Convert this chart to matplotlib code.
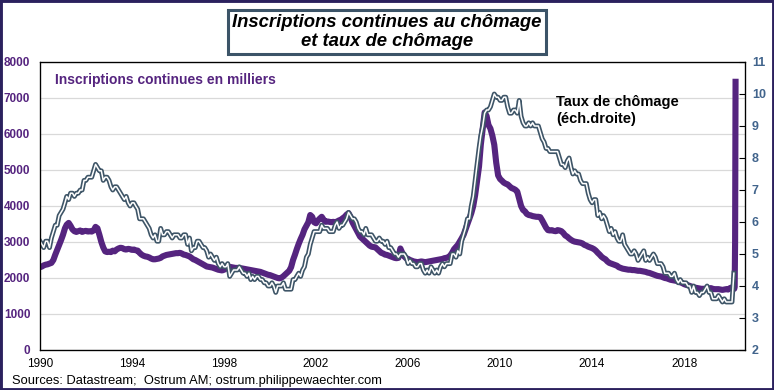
import matplotlib
matplotlib.use('Agg')
from matplotlib import pyplot as plt
from matplotlib.patches import Rectangle
import matplotlib.dates as mdates
import numpy as np
import pandas as pd

plt.rcParams['font.family'] = ['Liberation Sans', 'DejaVu Sans']

# continuing claims, monthly, thousands (Jan 1990 - Feb 2020)
claims_monthly = np.array([
    2300, 2320, 2350, 2370, 2380, 2400, 2420, 2500, 2650, 2780, 2920, 3050,  # 1990
    3200, 3380, 3480, 3530, 3450, 3350, 3300, 3280, 3300, 3320, 3280, 3300,  # 1991
    3310, 3290, 3300, 3290, 3320, 3420, 3380, 3200, 3000, 2850, 2740, 2720,  # 1992
    2730, 2720, 2760, 2740, 2790, 2820, 2840, 2830, 2800, 2790, 2810, 2800,  # 1993
    2780, 2790, 2770, 2760, 2700, 2650, 2620, 2600, 2590, 2570, 2540, 2520,  # 1994
    2520, 2530, 2540, 2560, 2600, 2620, 2640, 2650, 2660, 2670, 2680, 2690,  # 1995
    2690, 2700, 2680, 2650, 2640, 2620, 2600, 2560, 2520, 2500, 2470, 2440,  # 1996
    2410, 2380, 2350, 2320, 2310, 2300, 2290, 2270, 2250, 2230, 2220, 2210,  # 1997
    2230, 2260, 2300, 2310, 2300, 2290, 2280, 2280, 2270, 2270, 2260, 2250,  # 1998
    2240, 2230, 2220, 2210, 2200, 2190, 2180, 2170, 2150, 2130, 2110, 2090,  # 1999
    2080, 2060, 2040, 2020, 2000, 1990, 2010, 2050, 2100, 2150, 2200, 2300,  # 2000
    2500, 2650, 2800, 2950, 3080, 3200, 3350, 3450, 3550, 3750, 3700, 3550,  # 2001
    3520, 3600, 3650, 3700, 3620, 3560, 3570, 3560, 3550, 3560, 3550, 3570,  # 2002
    3600, 3620, 3660, 3700, 3760, 3800, 3700, 3550, 3450, 3350, 3250, 3150,  # 2003
    3100, 3050, 3000, 2950, 2900, 2870, 2860, 2850, 2800, 2750, 2700, 2680,  # 2004
    2650, 2640, 2620, 2600, 2580, 2560, 2550, 2560, 2820, 2700, 2600, 2550,  # 2005
    2530, 2500, 2480, 2460, 2450, 2440, 2450, 2460, 2450, 2440, 2450, 2460,  # 2006
    2470, 2480, 2490, 2500, 2510, 2520, 2530, 2550, 2560, 2580, 2620, 2700,  # 2007
    2800, 2860, 2920, 3010, 3100, 3200, 3350, 3500, 3650, 3800, 4000, 4300,  # 2008
    4700, 5100, 5700, 6150, 6600, 6500, 6250, 6150, 5950, 5700, 5200, 4850,  # 2009
    4750, 4700, 4650, 4620, 4600, 4550, 4500, 4480, 4450, 4400, 4200, 4000,  # 2010
    3890, 3850, 3780, 3750, 3740, 3720, 3710, 3700, 3700, 3690, 3600, 3500,  # 2011
    3400, 3330, 3320, 3330, 3310, 3300, 3330, 3320, 3300, 3250, 3180, 3150,  # 2012
    3100, 3060, 3030, 3010, 3000, 2990, 2980, 2960, 2920, 2900, 2870, 2850,  # 2013
    2830, 2800, 2760, 2700, 2650, 2590, 2550, 2520, 2460, 2420, 2400, 2380,  # 2014
    2360, 2340, 2300, 2280, 2260, 2250, 2240, 2230, 2230, 2220, 2220, 2210,  # 2015
    2200, 2200, 2190, 2180, 2170, 2150, 2140, 2120, 2100, 2080, 2060, 2050,  # 2016
    2040, 2020, 2000, 1990, 1970, 1950, 1940, 1930, 1920, 1900, 1880, 1860,  # 2017
    1830, 1810, 1800, 1780, 1760, 1740, 1730, 1720, 1710, 1700, 1700, 1700,  # 2018
    1710, 1710, 1720, 1700, 1690, 1690, 1690, 1680, 1670, 1680, 1690, 1680,  # 2019
    1720, 1740,                                                              # 2020
])
# weekly figures of March 2020
claims_weekly_dates = ['2020-03-07', '2020-03-14', '2020-03-21', '2020-03-28']
claims_weekly = [1700, 1750, 3030, 7450]

# unemployment rate, monthly, % (Jan 1990 - Mar 2020)
unemp_rate = np.array([
    5.4, 5.3, 5.2, 5.4, 5.4, 5.2, 5.5, 5.7, 5.9, 5.9, 6.2, 6.3,  # 1990
    6.4, 6.6, 6.8, 6.7, 6.9, 6.9, 6.8, 6.9, 6.9, 7.0, 7.0, 7.3,  # 1991
    7.3, 7.4, 7.4, 7.4, 7.6, 7.8, 7.7, 7.6, 7.6, 7.3, 7.4, 7.4,  # 1992
    7.3, 7.1, 7.0, 7.1, 7.1, 7.0, 6.9, 6.8, 6.7, 6.8, 6.6, 6.5,  # 1993
    6.6, 6.6, 6.5, 6.4, 6.1, 6.1, 6.1, 6.0, 5.9, 5.8, 5.6, 5.5,  # 1994
    5.6, 5.4, 5.4, 5.8, 5.6, 5.6, 5.7, 5.7, 5.6, 5.5, 5.6, 5.6,  # 1995
    5.6, 5.5, 5.5, 5.6, 5.6, 5.3, 5.5, 5.1, 5.2, 5.2, 5.4, 5.4,  # 1996
    5.3, 5.2, 5.2, 5.1, 4.9, 5.0, 4.9, 4.8, 4.9, 4.7, 4.6, 4.7,  # 1997
    4.6, 4.6, 4.7, 4.3, 4.4, 4.5, 4.5, 4.5, 4.6, 4.5, 4.4, 4.4,  # 1998
    4.3, 4.4, 4.2, 4.3, 4.2, 4.3, 4.3, 4.2, 4.2, 4.1, 4.1, 4.0,  # 1999
    4.0, 4.1, 4.0, 3.8, 4.0, 4.0, 4.0, 4.1, 3.9, 3.9, 3.9, 3.9,  # 2000
    4.2, 4.2, 4.3, 4.4, 4.3, 4.5, 4.6, 4.9, 5.0, 5.3, 5.5, 5.7,  # 2001
    5.7, 5.7, 5.7, 5.9, 5.8, 5.8, 5.8, 5.7, 5.7, 5.7, 5.9, 6.0,  # 2002
    5.8, 5.9, 5.9, 6.0, 6.1, 6.3, 6.2, 6.1, 6.1, 6.0, 5.8, 5.7,  # 2003
    5.7, 5.6, 5.8, 5.6, 5.6, 5.6, 5.5, 5.4, 5.4, 5.5, 5.4, 5.4,  # 2004
    5.3, 5.4, 5.2, 5.2, 5.1, 5.0, 5.0, 4.9, 5.0, 5.0, 5.0, 4.9,  # 2005
    4.7, 4.8, 4.7, 4.7, 4.6, 4.6, 4.7, 4.7, 4.5, 4.4, 4.5, 4.4,  # 2006
    4.6, 4.5, 4.4, 4.5, 4.4, 4.6, 4.7, 4.6, 4.7, 4.7, 4.7, 5.0,  # 2007
    5.0, 4.9, 5.1, 5.0, 5.4, 5.6, 5.8, 6.1, 6.1, 6.5, 6.8, 7.3,  # 2008
    7.8, 8.3, 8.7, 9.0, 9.4, 9.5, 9.5, 9.6, 9.8, 10.0, 9.9, 9.9,  # 2009
    9.8, 9.8, 9.9, 9.9, 9.6, 9.4, 9.4, 9.5, 9.5, 9.4, 9.8, 9.3,  # 2010
    9.1, 9.0, 9.0, 9.1, 9.0, 9.1, 9.0, 9.0, 9.0, 8.8, 8.6, 8.5,  # 2011
    8.3, 8.3, 8.2, 8.2, 8.2, 8.2, 8.2, 8.0, 7.8, 7.8, 7.7, 7.9,  # 2012
    8.0, 7.7, 7.5, 7.6, 7.5, 7.5, 7.3, 7.2, 7.2, 7.2, 6.9, 6.7,  # 2013
    6.6, 6.7, 6.7, 6.2, 6.3, 6.1, 6.2, 6.1, 5.9, 5.7, 5.8, 5.6,  # 2014
    5.7, 5.5, 5.4, 5.4, 5.6, 5.3, 5.2, 5.1, 5.0, 5.0, 5.1, 5.0,  # 2015
    4.8, 4.9, 5.0, 5.1, 4.8, 4.9, 4.8, 4.9, 5.0, 4.9, 4.7, 4.7,  # 2016
    4.7, 4.6, 4.4, 4.4, 4.4, 4.3, 4.3, 4.4, 4.2, 4.1, 4.2, 4.1,  # 2017
    4.1, 4.1, 4.0, 4.0, 3.8, 4.0, 3.8, 3.8, 3.7, 3.8, 3.8, 3.9,  # 2018
    4.0, 3.8, 3.8, 3.6, 3.6, 3.6, 3.7, 3.6, 3.5, 3.6, 3.5, 3.5,  # 2019
    3.5, 3.5, 4.4,                                               # 2020
])

year_ticks = [1990, 1994, 1998, 2002, 2006, 2010, 2014, 2018]

purple = '#55247f'
slate = '#3e5567'

claims_dates = pd.date_range('1990-01-01', periods=len(claims_monthly), freq='MS')
claims_x = list(claims_dates) + list(pd.to_datetime(claims_weekly_dates))
claims_y = list(claims_monthly) + claims_weekly
unemp_dates = pd.date_range('1990-01-01', periods=len(unemp_rate), freq='MS')

fig = plt.figure(figsize=(7.74, 3.90), dpi=100)
ax = fig.add_axes([40 / 774, 1 - 350 / 390, 705 / 774, 288 / 390])
ax2 = ax.twinx()

ax.plot(claims_x, claims_y, color=purple, lw=4.4, solid_joinstyle='round')
# double line look for the unemployment rate
ax2.plot(unemp_dates, unemp_rate, color=slate, lw=3.5)
ax2.plot(unemp_dates, unemp_rate, color='white', lw=1.1)

ax.set_xlim(pd.Timestamp('1990-01-01'), pd.Timestamp('2020-08-25'))
ax.set_ylim(0, 8000)
ax.set_yticks(range(0, 8001, 1000))
ax2.set_ylim(2, 11)
ax2.set_yticks(range(2, 12))

ax.set_xticks([pd.Timestamp(f'{y}-01-01') for y in year_ticks])
ax.xaxis.set_major_formatter(mdates.DateFormatter('%Y'))

ax.grid(axis='y', color='#d9d9d9', lw=0.9)
ax.set_axisbelow(True)

ax.tick_params(axis='y', length=0, pad=7, labelcolor=purple, labelsize=8.5)
ax.tick_params(axis='x', length=0, pad=6, labelsize=8.5)
ax2.tick_params(axis='y', direction='in', length=4, pad=5, labelcolor='#41648c', labelsize=9)
for lbl in ax.get_yticklabels() + ax2.get_yticklabels():
    lbl.set_fontweight('bold')

for sp in ax2.spines.values():
    sp.set_linewidth(0.9)

ax.text(0.021, 0.9375, 'Inscriptions continues en milliers', transform=ax.transAxes,
        color=purple, fontsize=10, fontweight='bold', va='center')
ax.text(0.732, 0.885, 'Taux de chômage\n(éch.droite)', transform=ax.transAxes,
        color='black', fontsize=10.5, fontweight='bold', va='top', linespacing=1.25)

fig.text(0.5, 1 - 32 / 390, 'Inscriptions continues au chômage\net taux de chômage',
         ha='center', va='center', fontsize=13.3, fontweight='bold', style='italic',
         linespacing=1.1,
         bbox=dict(boxstyle='square,pad=0.25', fc='white', ec='#3c5468', lw=2.2))

fig.text(12 / 774, 1 - 381 / 390, 'Sources: Datastream;  Ostrum AM; ostrum.philippewaechter.com',
         fontsize=9.3, va='center')

fig.patches.append(Rectangle((0, 0), 1, 1, transform=fig.transFigure, fill=False,
                             ec='#2b215e', lw=3.5))

fig.savefig('out.png', dpi=100)
